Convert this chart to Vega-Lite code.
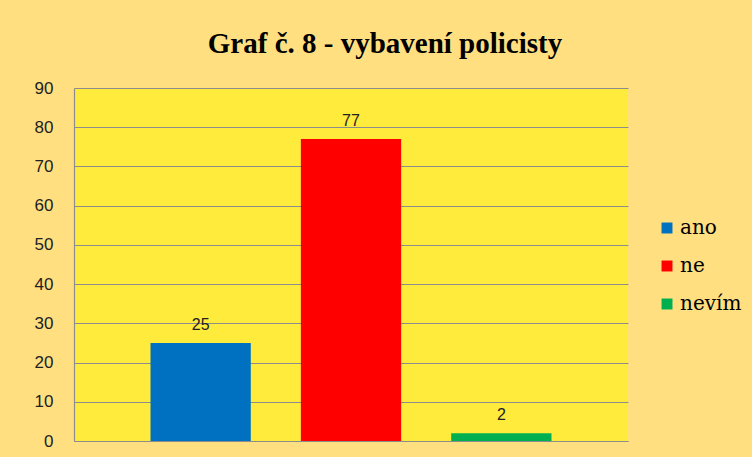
{
  "$schema": "https://vega.github.io/schema/vega-lite/v6.json",
  "autosize": {"type": "none"},
  "width": 554,
  "height": 353,
  "padding": {"left": 74, "top": 88, "right": 124, "bottom": 16},
  "background": "#FFDF80",
  "title": {
    "text": "Graf č. 8 - vybavení policisty",
    "font": "Liberation Serif",
    "fontSize": 29,
    "fontWeight": "bold",
    "color": "#000000",
    "anchor": "middle",
    "dx": 34,
    "offset": 20
  },
  "data": {
    "values": [
      {"odpoved": "ano", "pocet": 25},
      {"odpoved": "ne", "pocet": 77},
      {"odpoved": "nevím", "pocet": 2}
    ]
  },
  "config": {
    "view": {"fill": "#FFEB3B", "stroke": null}
  },
  "encoding": {
    "x": {
      "field": "odpoved",
      "type": "nominal",
      "sort": ["ano", "ne", "nevím"],
      "scale": {"paddingInner": 0.333, "paddingOuter": 0.509},
      "axis": {"labels": false, "ticks": false, "title": null, "domainColor": "#8C8C8C", "domainWidth": 1.2}
    },
    "y": {
      "field": "pocet",
      "type": "quantitative",
      "scale": {"domain": [0, 90], "nice": false},
      "axis": {
        "values": [0, 10, 20, 30, 40, 50, 60, 70, 80, 90],
        "title": null,
        "ticks": false,
        "labelPadding": 21,
        "labelFont": "Liberation Sans",
        "labelFontSize": 17,
        "labelColor": "#222222",
        "gridColor": "#8C8C8C",
        "gridOpacity": 1,
        "gridWidth": 1,
        "domainColor": "#8C8C8C",
        "domainWidth": 1.2
      }
    }
  },
  "layer": [
    {
      "mark": {"type": "bar"},
      "encoding": {
        "color": {
          "field": "odpoved",
          "type": "nominal",
          "sort": ["ano", "ne", "nevím"],
          "scale": {"domain": ["ano", "ne", "nevím"], "range": ["#0070C0", "#FF0000", "#00B050"]},
          "legend": {
            "title": null,
            "orient": "none",
            "legendX": 583,
            "legendY": 130,
            "symbolType": "square",
            "symbolSize": 120,
            "symbolStrokeWidth": 0,
            "labelFont": "DejaVu Serif",
            "labelFontSize": 20,
            "labelColor": "#000000",
            "labelOffset": 3,
            "rowPadding": 18
          }
        }
      }
    },
    {
      "mark": {"type": "text", "dy": -13, "baseline": "alphabetic", "font": "Liberation Sans", "fontSize": 16, "color": "#222222"},
      "encoding": {
        "text": {"field": "pocet", "type": "quantitative"}
      }
    }
  ]
}
